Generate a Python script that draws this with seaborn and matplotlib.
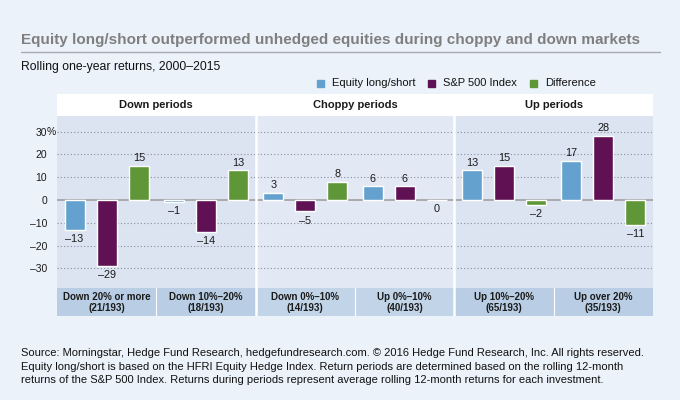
import matplotlib
matplotlib.use("Agg")
import matplotlib.pyplot as plt
import seaborn as sns
import pandas as pd
from matplotlib import font_manager as fm
from matplotlib.transforms import offset_copy

# ---- data ----
groups = ["Down 20% or more\n(21/193)", "Down 10%–20%\n(18/193)",
          "Down 0%–10%\n(14/193)", "Up 0%–10%\n(40/193)",
          "Up 10%–20%\n(65/193)", "Up over 20%\n(35/193)"]
panels = ["Down periods", "Choppy periods", "Up periods"]
series = ["Equity long/short", "S&P 500 Index", "Difference"]
equity_ls = [-13, -1, 3, 6, 13, 17]
sp500 = [-29, -14, -5, 6, 15, 28]
difference = [15, 13, 8, 0, -2, -11]
yticks = [30, 20, 10, 0, -10, -20, -30]
colors = ["#64A1CE", "#5F1154", "#5F9738"]

title = "Equity long/short outperformed unhedged equities during choppy and down markets"
subtitle = "Rolling one-year returns, 2000–2015"
footnote = ("Source: Morningstar, Hedge Fund Research, hedgefundresearch.com. © 2016 Hedge Fund Research, Inc. All rights reserved.\n"
            "Equity long/short is based on the HFRI Equity Hedge Index. Return periods are determined based on the rolling 12-month\n"
            "returns of the S&P 500 Index. Returns during periods represent average rolling 12-month returns for each investment.")

df = pd.DataFrame({
    "group": groups * 3,
    "series": [s for s in series for _ in groups],
    "value": equity_ls + sp500 + difference,
})

names = {f.name for f in fm.fontManager.ttflist}
FONT = "Liberation Sans Narrow" if "Liberation Sans Narrow" in names else "Liberation Sans"

sns.set_theme(style="white")
plt.rcParams["font.family"] = [FONT, "DejaVu Sans"]

W, H = 680, 400
BG = "#EBF2FA"
TXT = "#1a1a1a"
fig = plt.figure(figsize=(6.8, 4.0), dpi=100, facecolor=BG)

def rect(x0, y0, x1, y1):
    # pixel coords (top-left origin) -> figure fraction
    return [x0 / W, 1 - y1 / H, (x1 - x0) / W, (y1 - y0) / H]

X0, X1 = 57, 653
PT, PB = 116, 288  # plot area top/bottom
zero_y, px10 = 200, 22.8
ytop = (zero_y - PT) / px10 * 10
ybot = -(PB - zero_y) / px10 * 10

# header band
hax = fig.add_axes(rect(X0, 94, X1, PT))
hax.set_xlim(-0.5, 5.5); hax.set_ylim(0, 1)
hax.axis("off")
hax.add_patch(plt.Rectangle((-0.5, 0), 6, 1, color="white", zorder=0))
for i, p in enumerate(panels):
    hax.text(2 * i + 0.5, 0.5, p, ha="center", va="center", fontsize=8,
             fontweight="bold", color=TXT)

# main plot
ax = fig.add_axes(rect(X0, PT, X1, PB))
pan_bg = ["#DCE4F1", "#E3E9F4", "#DCE4F1"]
for i in range(3):
    ax.axvspan(2 * i - 0.5, 2 * i + 1.5, color=pan_bg[i], zorder=0, lw=0)
sns.barplot(data=df, x="group", y="value", hue="series", order=groups,
            hue_order=series, palette=colors, width=0.97, gap=0.38,
            saturation=1, ax=ax, legend=False, zorder=3)
ax.set_xlim(-0.5, 5.5)
ax.set_ylim(ybot, ytop)
for y in yticks:
    if y == 0:
        ax.axhline(0, color="#9A9A9A", lw=1.1, zorder=2)
    else:
        ax.axhline(y, color="#8A8FA0", lw=0.8, ls=(0, (1, 2)), zorder=1)
for xv in (1.5, 3.5):
    ax.axvline(xv, color="white", lw=1.8, zorder=4)
for sp in ax.spines.values():
    sp.set_visible(False)
ax.set_xlabel(""); ax.set_ylabel("")
ax.set_xticks([])
ax.set_yticks(yticks)
ax.set_yticklabels(["30"] + [f"{v}".replace("-", "–") for v in yticks[1:]],
                   fontsize=7.5, color=TXT)
ax.tick_params(axis="y", length=0, pad=7.2)
pct = ax.text(-0.5, 30, "%", fontsize=7.5, color=TXT, ha="left", va="center",
              transform=offset_copy(ax.transData, fig=fig, x=-10, y=0, units="dots"))

for cont in ax.containers:
    for bar in cont:
        h = bar.get_height()
        xc = bar.get_x() + bar.get_width() / 2
        lbl = f"{h:.0f}".replace("-", "–")
        if h > 0:
            ax.annotate(lbl, (xc, h), xytext=(0, 2), textcoords="offset points",
                        ha="center", va="bottom", fontsize=7.8, color=TXT)
        else:
            ax.annotate(lbl, (xc, h), xytext=(0, -3), textcoords="offset points",
                        ha="center", va="top", fontsize=7.8, color=TXT)

# category band
bax = fig.add_axes(rect(X0, PB, X1, 316))
bax.set_xlim(-0.5, 5.5); bax.set_ylim(0, 1); bax.axis("off")
band_bg = ["#B9CEE4", "#C2D5E8", "#B9CEE4"]
for i in range(3):
    bax.axvspan(2 * i - 0.5, 2 * i + 1.5, color=band_bg[i], lw=0, zorder=0)
for xv in (0.5, 2.5, 4.5):
    bax.axvline(xv, color="white", lw=0.8, zorder=2)
for xv in (1.5, 3.5):
    bax.axvline(xv, color="white", lw=1.8, zorder=2)
for i, g in enumerate(groups):
    bax.text(i, 0.48, g, ha="center", va="center", fontsize=7,
             fontweight="bold", color=TXT, linespacing=1.2)

# titles, legend, footnote
fig.text(21 / W, 1 - 40 / H, title, fontsize=11, fontweight="bold",
         color="#7F7F7F", ha="left", va="center")
fig.add_artist(plt.Line2D([21 / W, 660 / W], [1 - 52 / H, 1 - 52 / H],
                          color="#A6ABB3", lw=1))
fig.text(21 / W, 1 - 67 / H, subtitle, fontsize=8.8, color="#111111",
         ha="left", va="center")

leg_x = [317, 428, 530]
for lx, s, c in zip(leg_x, series, colors):
    fig.add_artist(plt.Rectangle((lx / W, 1 - 87 / H), 7 / W, 7 / H,
                                 color=c, transform=fig.transFigure))
    fig.text((lx + 15) / W, 1 - 83 / H, s, fontsize=8, color="#111111",
             ha="left", va="center")

fig.text(21 / W, 1 - 366.5 / H, footnote, fontsize=8, color="#111111",
         ha="left", va="center", linespacing=1.45)

fig.savefig("out.png", dpi=100, facecolor=BG)
